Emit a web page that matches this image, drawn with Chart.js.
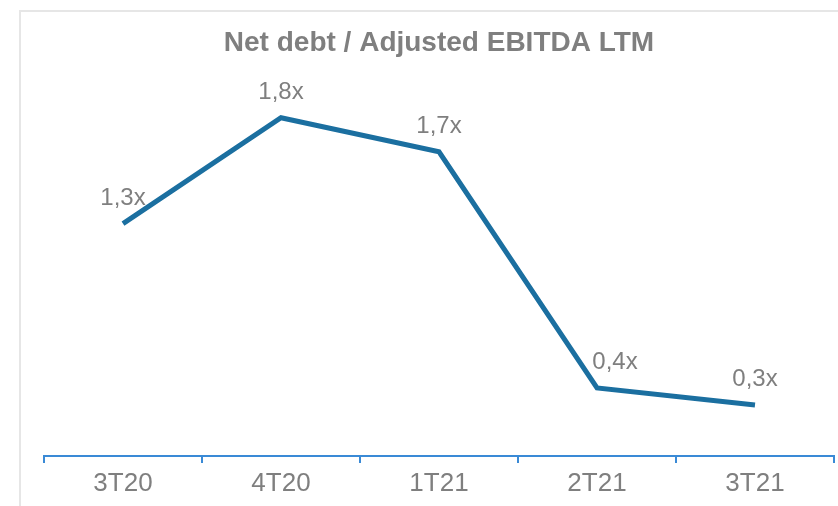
<!DOCTYPE html>
<html>
<head>
<meta charset="utf-8">
<script src="https://cdn.jsdelivr.net/npm/chart.js@4"></script>
<style>
    html, body { margin: 0; padding: 0; background: #fff; overflow: hidden; }
    #frame {
        position: absolute; left: 19px; top: 10px; width: 840px; height: 510px;
        border-top: 2px solid #e6e6e6; border-left: 2px solid #e6e6e6;
    }
    #wrap { position: absolute; left: 0; top: 0; width: 838px; height: 506px; }
</style>
</head>
<body>
<div id="frame"></div>
<div id="wrap"><canvas id="chart"></canvas></div>
<script>
// --- Data ---
const quarters = ["3T20", "4T20", "1T21", "2T21", "3T21"];
const leverage = [1.28, 1.84, 1.66, 0.41, 0.32];

const LINE_BLUE = "#1b6fa0";
const AXIS_BLUE = "#3a8ad6";
const TEXT_GRAY = "#7f7f7f";

// value labels above the points ("1,3x")
const valueLabels = {
    id: "valueLabels",
    afterDatasetsDraw(chart, args, opts) {
        const ctx = chart.ctx;
        const meta = chart.getDatasetMeta(0);
        ctx.save();
        ctx.font = "24px 'Liberation Sans', Arial, sans-serif";
        ctx.fillStyle = TEXT_GRAY;
        ctx.textAlign = "center";
        ctx.textBaseline = "alphabetic";
        meta.data.forEach((pt, i) => {
            const txt = leverage[i].toFixed(1).replace(".", ",") + "x";
            const dx = (opts.shift && opts.shift[i]) || 0;
            ctx.fillText(txt, pt.x + dx, pt.y - 19);
        });
        ctx.restore();
    }
};

const ctx = document.getElementById("chart").getContext("2d");
new Chart(ctx, {
    type: "line",
    data: {
        labels: quarters,
        datasets: [{
            data: leverage,
            borderColor: LINE_BLUE,
            borderWidth: 5,
            pointRadius: 0,
            tension: 0,
            fill: false
        }]
    },
    options: {
        responsive: true,
        maintainAspectRatio: false,
        animation: false,
        layout: { padding: { left: 44, right: 4, top: 0, bottom: 0 } },
        plugins: {
            legend: { display: false },
            tooltip: { enabled: false },
            title: {
                display: true,
                text: "Net debt / Adjusted EBITDA LTM",
                color: TEXT_GRAY,
                font: { family: "'Liberation Sans', Arial, sans-serif", size: 28, weight: "bold" },
                padding: { top: 26, bottom: 10 }
            },
            valueLabels: { shift: [0, 0, 0, 18, 0] }
        },
        scales: {
            x: {
                offset: true,
                afterFit: (scale) => { scale.height = 50; },
                grid: {
                    offset: true,
                    drawOnChartArea: false,
                    drawTicks: true,
                    tickLength: 7,
                    color: AXIS_BLUE,
                    lineWidth: 2
                },
                border: { color: AXIS_BLUE, width: 2 },
                ticks: {
                    color: TEXT_GRAY,
                    padding: 5,
                    font: { family: "'Liberation Sans', Arial, sans-serif", size: 26 }
                }
            },
            y: {
                display: false,
                min: 0.05,
                max: 2.095
            }
        }
    },
    plugins: [valueLabels]
});
</script>
</body>
</html>
